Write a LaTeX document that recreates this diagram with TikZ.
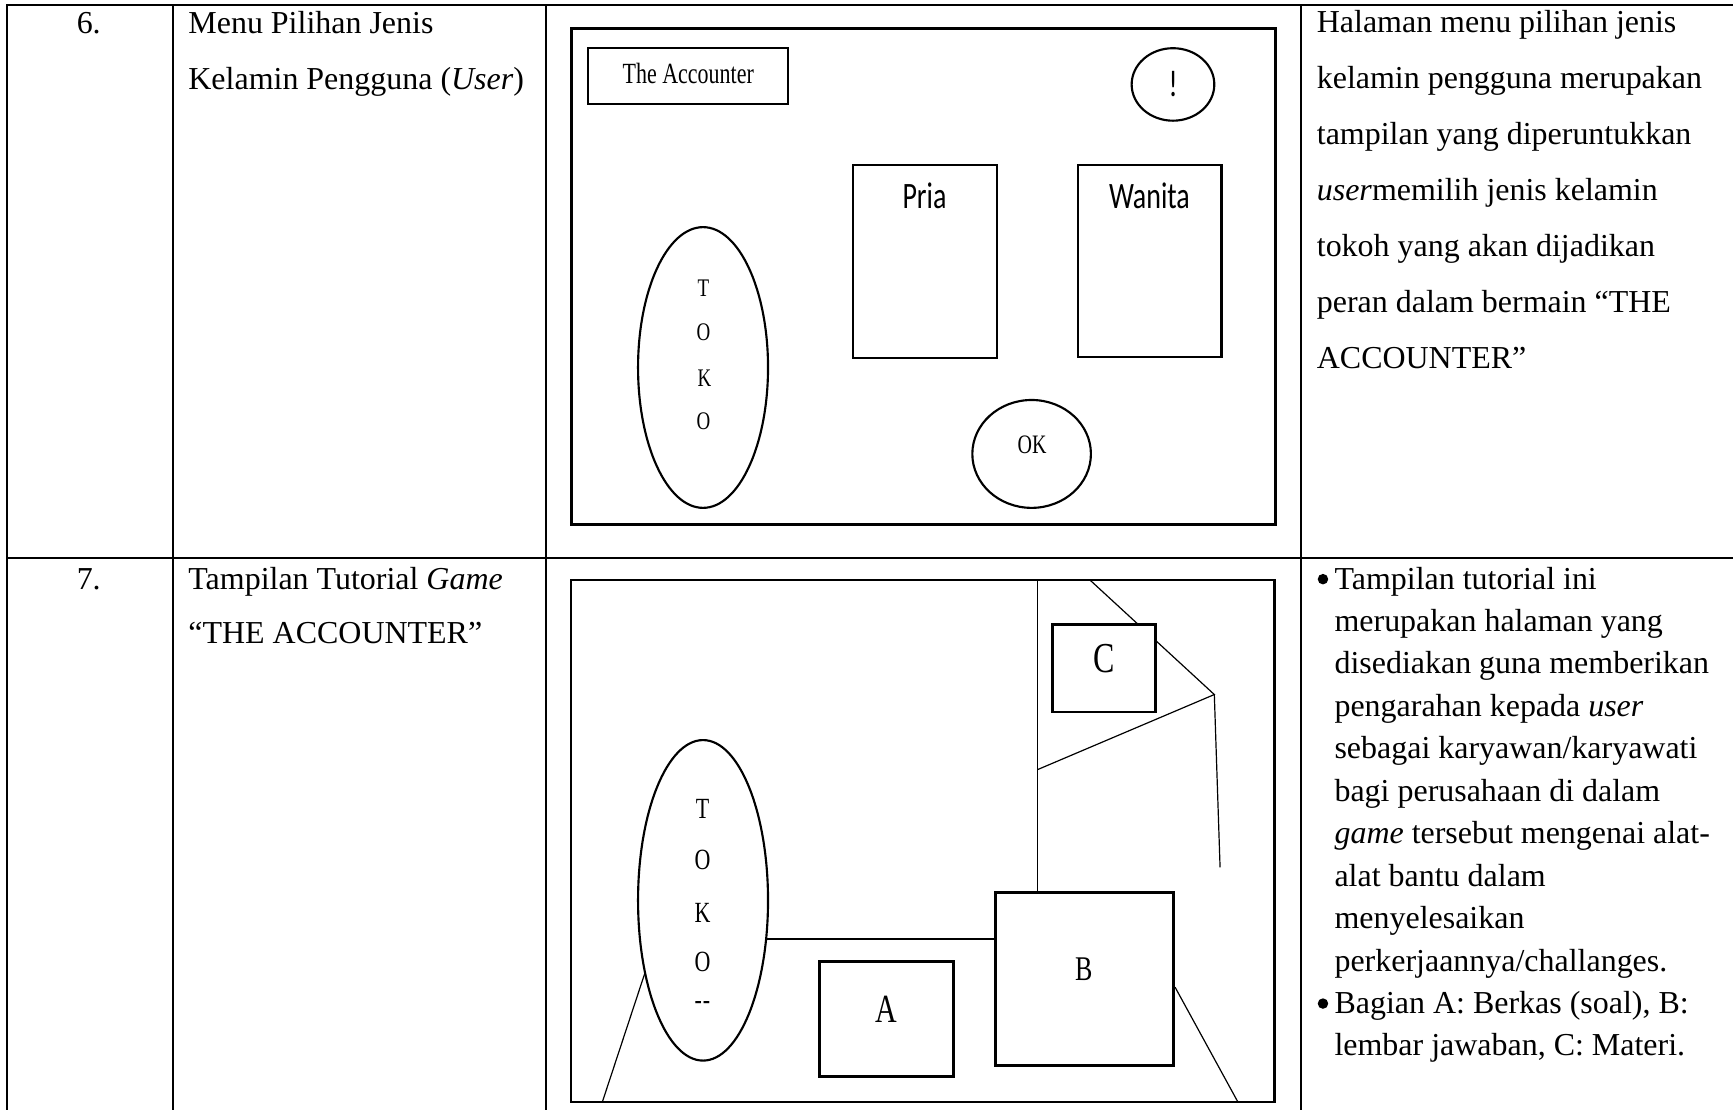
\documentclass[tikz,border=0pt]{standalone}
\usepackage{fontspec}
\usepackage{graphicx}
\setmainfont{Liberation Serif}
\newfontfamily\uisans{Carlito}
\usetikzlibrary{shapes.geometric}
\newcommand{\uu}{0.415pt}
\newcommand{\sqz}[1]{\scalebox{0.75}[1]{#1}}
\begin{document}
\begin{tikzpicture}[x=0.415pt, y=-0.415pt,
  tbl/.style={line width=0.8pt},
  txt/.style={anchor=base west, inner sep=0pt, font=\fontsize{12}{14}\selectfont},
  num/.style={anchor=base, inner sep=0pt, font=\fontsize{12}{14}\selectfont},
  dot/.style={circle, fill=black, inner sep=0pt, minimum size=9.5*\uu},
  screen/.style 2 args={draw, rectangle, line width=1pt, inner sep=0pt,
    minimum width=#1*\uu, minimum height=#2*\uu},
  sbox/.style 2 args={draw, rectangle, line width=0.8pt, inner sep=0pt, fill=white,
    minimum width=#1*\uu, minimum height=#2*\uu},
  pbox/.style 2 args={draw, rectangle, line width=1pt, inner sep=0pt, fill=white,
    minimum width=#1*\uu, minimum height=#2*\uu},
  oval/.style 2 args={draw, ellipse, line width=0.8pt, inner sep=0pt, fill=white,
    minimum width=#1*\uu, minimum height=#2*\uu},
  lbl/.style={inner sep=0pt, anchor=center},
  guide/.style={line width=0.45pt}
]
\useasboundingbox (0,0) rectangle (1568,1004);
\clip (0,0) rectangle (1568,1004);

% table rules
\draw[tbl] (6.6,1010) -- (6.6,4.5) -- (1580,4.5);
\draw[tbl] (6.6,504.6) -- (1580,504.6);
\draw[tbl] (156.3,4.5) -- (156.3,1010);
\draw[tbl] (493.7,4.5) -- (493.7,1010);
\draw[tbl] (1177,4.5) -- (1177,1010);

% ---------- row 6 ----------
\node[num] (no6) at (80.3,30.5) {6.};
\node[txt] (t6a) at (170,30.7) {Menu Pilihan Jenis};
\node[txt] (t6b) at (170,80.7) {Kelamin Pengguna (\textit{User})};

\node[txt] (d6a) at (1191,29.7)  {Halaman menu pilihan jenis};
\node[txt] (d6b) at (1191,80.3)  {kelamin pengguna merupakan};
\node[txt] (d6c) at (1191,130.9) {tampilan yang diperuntukkan};
\node[txt] (d6d) at (1191,181.5) {\textit{user}memilih jenis kelamin};
\node[txt] (d6e) at (1191,232.1) {tokoh yang akan dijadikan};
\node[txt] (d6f) at (1191,282.7) {peran dalam bermain “THE};
\node[txt] (d6g) at (1191,333.3) {ACCOUNTER”};

% gender selection screen
\node[screen={637}{448.5}] (scr1) at (835.5,250.25) {};
\node[sbox={181}{50}] (title) at (622.5,68.7) {};
\node[lbl, font=\fontsize{11}{12}\selectfont] (titletxt) at (622.7,66.2) {\sqz{The Accounter}};
\node[oval={74.8}{65.6}] (info) at (1061.3,76.4) {};
\node[lbl, font=\uisans\fontsize{14}{16}\selectfont] (infotxt) at (1061.5,76) {\sqz{!}};
\node[sbox={130.3}{174.2}] (pria) at (836.65,236.7) {};
\node[lbl, font=\uisans\fontsize{14}{16}\selectfont] (priatxt) at (836.5,177) {\sqz{Pria}};
\node[sbox={130.2}{174.2}] (wanita) at (1040.1,236) {};
\node[lbl, font=\uisans\fontsize{14}{16}\selectfont] (wanitatxt) at (1040,177) {\sqz{Wanita}};
\node[oval={117.6}{254}] (shop1) at (636.1,332.5) {};
\begin{scope}[every node/.style={lbl, font=\fontsize{9.5}{10}\selectfont}]
  \node (s1t) at (636.5,261)   {\sqz{T}};
  \node (s1o) at (636.5,300.5) {\sqz{O}};
  \node (s1k) at (637.5,341.9) {\sqz{K}};
  \node (s1p) at (636.5,381.3) {\sqz{O}};
\end{scope}
\node[oval={107.3}{97.6}] (ok) at (933.4,410.7) {};
\node[lbl, font=\fontsize{10}{11}\selectfont] (oktxt) at (933.8,402.3) {\sqz{OK}};

% ---------- row 7 ----------
\node[num] (no7) at (80.3,533) {7.};
\node[txt] (t7a) at (170,533) {Tampilan Tutorial \textit{Game}};
\node[txt] (t7b) at (170,582.3) {“THE ACCOUNTER”};

\node[dot] (b7a) at (1197,524) {};
\node[txt] (d7a) at (1207,533)   {Tampilan tutorial ini};
\node[txt] (d7b) at (1207,571.4) {merupakan halaman yang};
\node[txt] (d7c) at (1207,609.8) {disediakan guna memberikan};
\node[txt] (d7d) at (1207,648.2) {pengarahan kepada \textit{user}};
\node[txt] (d7e) at (1207,686.6) {sebagai karyawan/karyawati};
\node[txt] (d7f) at (1207,725)   {bagi perusahaan di dalam};
\node[txt] (d7g) at (1207,763.4) {\textit{game} tersebut mengenai alat-};
\node[txt] (d7h) at (1207,801.8) {alat bantu dalam};
\node[txt] (d7i) at (1207,840.2) {menyelesaikan};
\node[txt] (d7j) at (1207,878.6) {perkerjaannya/challanges.};
\node[dot] (b7b) at (1197,908)   {};
\node[txt] (d7k) at (1207,917)   {Bagian A: Berkas (soal), B:};
\node[txt] (d7l) at (1207,955.4) {lembar jawaban, C: Materi.};

% tutorial screen
\node[screen={636.4}{472.2}] (scr2) at (834.8,760.9) {};
\node[pbox={161.4}{156.3}] (B) at (981.3,885.75) {};
\node[lbl, font=\fontsize{13}{14}\selectfont] (Btxt) at (980.6,876.7) {\sqz{B}};

\coordinate (vtop) at (938.6,524.8);
\coordinate (dtop) at (986.2,524.8);
\coordinate (apex) at (1098.7,628.4);
\coordinate (vmid) at (938.6,696.4);
\coordinate (dend) at (1103.9,784.7);
\coordinate (hl)   at (693.5,849.5);
\coordinate (ll1)  at (583.6,880);
\coordinate (ll2)  at (545,997);
\coordinate (rly)  at (0,893.2);
\coordinate (rl2)  at (1120,997);

\draw[guide] (vtop) -- (vtop |- B.north);
\draw[guide] (dtop) -- (apex) -- (vmid);
\draw[guide] (apex) -- (dend);
\draw[guide] (hl) -- (hl -| B.west);
\draw[guide] (ll1) -- (ll2);
\draw[guide] (B.east |- rly) -- (rl2);

\node[oval={117.6}{290}] (shop2) at (636.1,814.6) {};
\begin{scope}[every node/.style={lbl, font=\fontsize{11}{12}\selectfont}]
  \node (s2t) at (635.6,731.5) {\sqz{T}};
  \node (s2o) at (635.6,778)   {\sqz{O}};
  \node (s2k) at (635.6,825.7) {\sqz{K}};
  \node (s2p) at (635.6,870.1) {\sqz{O}};
  \node (s2d) at (635.6,909.6) {\sqz{-\kern0.5pt-}};
\end{scope}

\node[pbox={120.8}{103.7}] (A) at (802.1,921.95) {};
\node[lbl, font=\fontsize{15}{16}\selectfont] (Atxt) at (802.3,912.9) {\sqz{A}};
\node[pbox={93.1}{79.2}] (C) at (998.95,604.5) {};
\node[lbl, font=\fontsize{16}{17}\selectfont] (Ctxt) at (998.7,595.5) {\sqz{C}};
\end{tikzpicture}
\end{document}
